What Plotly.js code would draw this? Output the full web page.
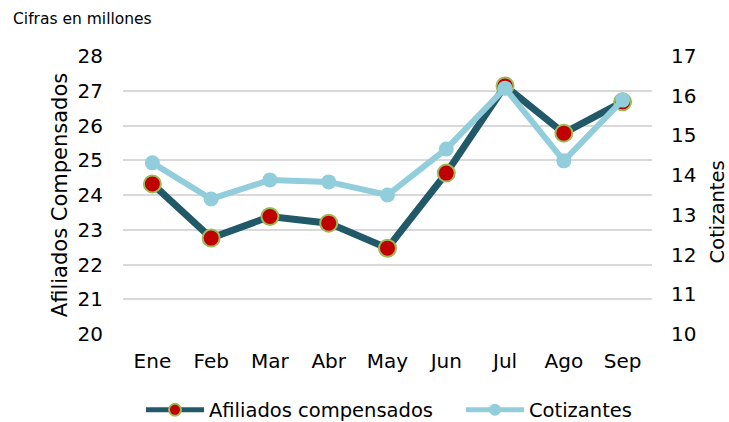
<!DOCTYPE html>
<html>
<head>
<meta charset="utf-8">
<script src="https://cdn.plot.ly/plotly-3.0.1.min.js"></script>
<style>html,body{margin:0;padding:0;background:#fff;}#chart{width:729px;height:422px;}</style>
</head>
<body>
<div id="chart"></div>
<script>
const months = ["Ene","Feb","Mar","Abr","May","Jun","Jul","Ago","Sep"];
const afiliados = [24.32, 22.76, 23.38, 23.19, 22.47, 24.63, 27.14, 25.78, 26.68];
const cotizantes = [14.31, 13.40, 13.88, 13.83, 13.50, 14.66, 16.19, 14.36, 15.89];
const leftTicks = [20,21,22,23,24,25,26,27,28];
const rightTicks = [10,11,12,13,14,15,16,17];

const FONT = "DejaVu Sans, Verdana, sans-serif";
const traces = [
  {
    x: months, y: afiliados, name: "Afiliados compensados",
    type: "scatter", mode: "lines+markers", yaxis: "y", legend: "legend",
    line: {color: "#215968", width: 7},
    marker: {color: "#C00000", size: 17, line: {color: "#9BBB59", width: 2}}
  },
  {
    x: months, y: cotizantes, name: "Cotizantes",
    type: "scatter", mode: "lines+markers", yaxis: "y2", legend: "legend2",
    line: {color: "#92CDDC", width: 6},
    marker: {color: "#92CDDC", size: 15}
  }
];

const legendBase = {
  orientation: "h", xanchor: "left", xref: "container",
  y: 0.028, yanchor: "middle", yref: "container",
  font: {size: 19.5}, itemwidth: 58, itemsizing: "constant", bgcolor: "rgba(0,0,0,0)"
};

const layout = {
  width: 729, height: 422,
  margin: {l: 122.5, r: 76.5, t: 56, b: 88},
  paper_bgcolor: "#fff", plot_bgcolor: "#fff",
  font: {family: FONT, color: "#000", size: 20},
  showlegend: true,
  legend: Object.assign({}, legendBase, {x: 141 / 729}),
  legend2: Object.assign({}, legendBase, {x: 461 / 729}),
  xaxis: {
    type: "category", range: [-0.5, 8.5], showgrid: false, zeroline: false,
    showline: false, ticks: "", tickfont: {size: 20}, ticklabelstandoff: 13
  },
  yaxis: {
    range: [20, 28], tickvals: leftTicks, showgrid: true, gridcolor: "#d9d9d9", gridwidth: 2,
    zeroline: false, showline: false, ticks: "", tickfont: {size: 20}, ticklabelstandoff: 19,
    title: {text: "Afiliados Compensados", font: {size: 21}, standoff: 4}
  },
  yaxis2: {
    range: [10, 17], tickvals: rightTicks, overlaying: "y", side: "right",
    showgrid: false, zeroline: false, showline: false, ticks: "", tickfont: {size: 20}, ticklabelstandoff: 18
  },
  annotations: [
    {
      text: "Cifras en millones", xref: "paper", yref: "paper",
      x: (10 - 122.5) / 530, y: (334 - 8) / 278, xanchor: "left", yanchor: "top", showarrow: false,
      font: {size: 15.5}
    },
    {
      text: "Cotizantes", xref: "paper", yref: "paper", textangle: -90,
      x: (718 - 122.5) / 530, y: (334 - 212) / 278, xanchor: "center", yanchor: "middle", showarrow: false,
      font: {size: 19.5}
    }
  ]
};

Plotly.newPlot("chart", traces, layout, {displayModeBar: false, staticPlot: true});
</script>
</body>
</html>
